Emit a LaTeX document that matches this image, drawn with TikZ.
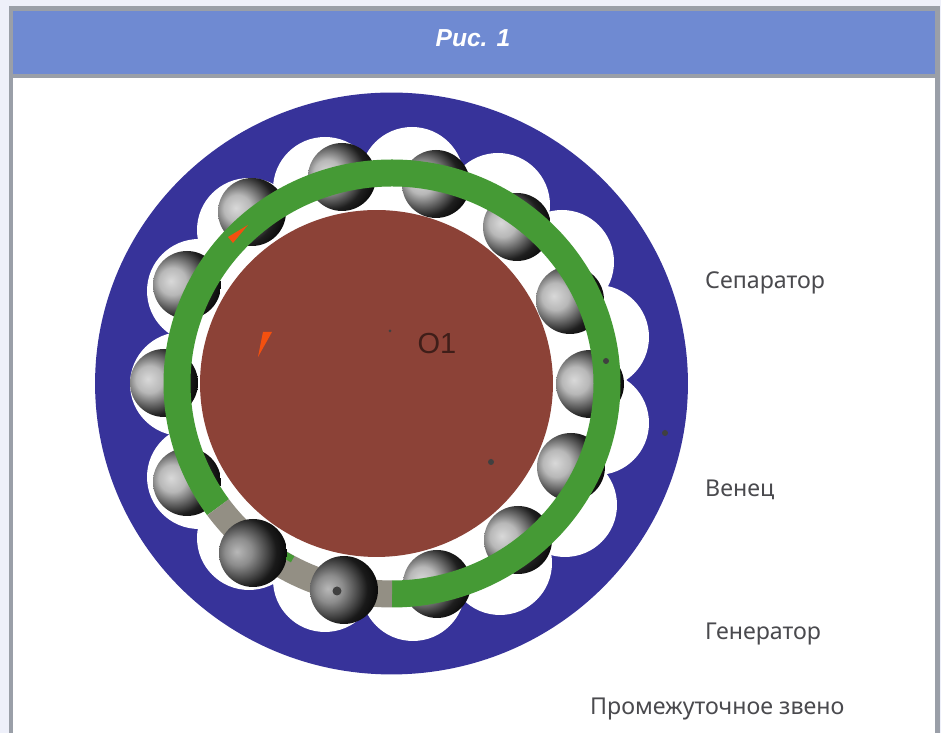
\documentclass[tikz,border=0pt]{standalone}
\usepackage{fontspec}
\setmainfont{Noto Sans}
\newfontfamily\titlefont{Liberation Sans}
\usetikzlibrary{shapes}
\usetikzlibrary{backgrounds}

\definecolor{pagebg}{HTML}{EEF0FA}
\definecolor{framegray}{HTML}{9A9FA8}
\definecolor{headerblue}{HTML}{6F8AD2}
\definecolor{discblue}{HTML}{37339A}
\definecolor{corebrown}{HTML}{8C4237}
\definecolor{ringgreen}{HTML}{459A35}
\definecolor{ringgray}{HTML}{938F84}
\definecolor{markorange}{HTML}{F4500F}
\definecolor{labelgray}{HTML}{4A4A4E}

\pgfdeclareradialshading{steelball}{\pgfpoint{-12bp}{3bp}}{
    color(0bp)=(white!85!black);
    color(10bp)=(white!72!black);
    color(19bp)=(white!38!black);
    color(26bp)=(white!12!black);
    color(33bp)=(white!4!black);
    color(100bp)=(black)
}
\pgfdeclareradialshading{frontball}{\pgfpoint{-12bp}{1bp}}{
    color(0bp)=(white!72!black);
    color(10bp)=(white!55!black);
    color(19bp)=(white!30!black);
    color(26bp)=(white!10!black);
    color(33bp)=(white!4!black);
    color(100bp)=(black)
}

\begin{document}
\begin{tikzpicture}[
    x=0.02cm,
    y=0.02cm,
    every node/.style={font=\fontsize{13.2}{15}\selectfont, text=labelgray},
    disc/.style={
        ellipse,
        inner sep=0pt
    },
    pocket/.style={
        circle,
        fill=white,
        inner sep=0pt,
        minimum size=2.08cm
    },
    ball/.style={
        circle,
        shading=steelball,
        inner sep=0pt,
        minimum size=1.36cm
    },
    front/.style={
        ball,
        shading=frontball
    },
    dotmark/.style={
        circle,
        fill=black!75,
        inner sep=0pt,
        minimum size=0.12cm
    },
    marker/.style={fill=markorange},
    ring/.style={line width=0.54cm},
    label/.style={anchor=west}
]

\useasboundingbox (0,0) rectangle (941,733);

% Frame and header
\fill[pagebg] (0,0) rectangle (941,733);
\fill[white, draw=framegray, line width=0.1cm] (11,-5) rectangle (937,724);
\fill[headerblue, draw=framegray, line width=0.07cm] (11,657) rectangle (937,724);
\node[text=white, font=\fontsize{14}{15}\selectfont\titlefont\bfseries\itshape] (title) at (473,695) {Рис. 1};

% Separator with its pockets
\node[disc, fill=discblue, minimum width=11.86cm, minimum height=11.64cm] (separator) at (391.5,349.5) {};
\node[disc, fill=white, minimum width=9.0cm, minimum height=8.8cm] (gap) at (391.5,349.5) {};
\node[pocket] (pocket1) at (325,544) {};
\node[pocket] (pocket2) at (412,554) {};
\node[pocket] (pocket3) at (498,528) {};
\node[pocket] (pocket4) at (562,471) {};
\node[pocket] (pocket5) at (597,396) {};
\node[pocket] (pocket6) at (597,310) {};
\node[pocket] (pocket7) at (565,228) {};
\node[pocket] (pocket8) at (500,170) {};
\node[pocket] (pocket9) at (413,144) {};
\node[pocket] (pocket10) at (325,153) {};
\node[pocket] (pocket11) at (249,195) {};
\node[pocket] (pocket12) at (199,256) {};
\node[pocket] (pocket13) at (182,349) {};
\node[pocket] (pocket14) at (199,442) {};
\node[pocket] (pocket15) at (249,503) {};

% Core
\node[disc, fill=corebrown, minimum width=7.06cm, minimum height=6.94cm] (core) at (376.5,349.5) {};
\node[text=black!55!corebrown, font=\fontsize{16.5}{16}\selectfont\titlefont] (o1) at (437,389) {O1};

% Balls behind the ring
\node[ball] (ball1) at (342,556) {};
\node[ball] (ball2) at (252,521) {};
\node[ball] (ball3) at (187,448) {};
\node[ball] (ball4) at (164,350) {};
\node[ball] (ball5) at (187,251) {};
\node[ball] (ball8) at (437,149) {};
\node[ball] (ball9) at (518,193) {};
\node[ball] (ball10) at (571,266) {};
\node[ball] (ball11) at (590,349) {};
\node[ball] (ball12) at (570,433) {};
\node[ball] (ball13) at (517,506) {};
\node[ball] (ball14) at (436,549) {};

% Ring
\draw[ring, ringgreen] (392,349.5) ++(270:215 and 210.5) arc[start angle=270, end angle=576, x radius=215, y radius=210.5];
\draw[ring, ringgray] (392,349.5) ++(216:215 and 210.5) arc[start angle=216, end angle=270, x radius=215, y radius=210.5];
\draw[ringgreen, line width=0.14cm] (392,349.5) ++(236:205 and 201) arc[start angle=236, end angle=241, x radius=205, y radius=201];

% Balls over the ring
\node[front] (ball6) at (253,180) {};
\node[front] (ball7) at (344,143) {};

% Small marks
\fill[marker] (248,508) -- (228,496) -- (233,490) -- cycle;
\fill[marker] (272,401) -- (263,401) -- (258,376) -- cycle;
\node[dotmark] (dot1) at (606,372) {};
\node[dotmark] (dot2) at (665,300) {};
\node[dotmark] (dot3) at (491,271) {};
\node[dotmark, minimum size=0.18cm] (dot4) at (337,142) {};
\node[dotmark, minimum size=0.06cm] (dot5) at (390,402) {};

% Labels
\node[label] (lseparator) at (699,450) {Сепаратор};
\node[label] (lcrown) at (699,243) {Венец};
\node[label] (lgenerator) at (699,99) {Генератор};
\node[label] (llink) at (584,24) {Промежуточное звено};

\end{tikzpicture}
\end{document}
